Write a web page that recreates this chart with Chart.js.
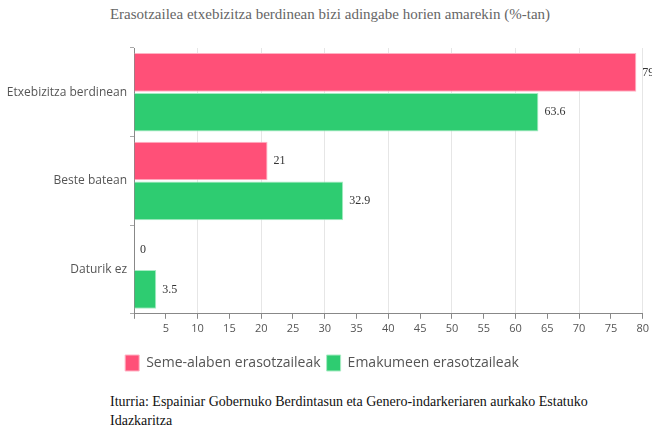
<!DOCTYPE html>
<html>
<head>
<meta charset="utf-8">
<script src="https://cdn.jsdelivr.net/npm/chart.js@4/dist/chart.umd.min.js"></script>
<style>
    body { margin: 0; background: #fff; width: 652px; height: 428px; overflow: hidden; }
    .title { font-family: "Liberation Serif", serif; font-size: 15px; color: #666; text-align: center; padding-top: 6px; height: 26px; padding-left: 8px; }
    .chart-box { position: relative; width: 652px; height: 353px; }
    .source { font-family: "Liberation Serif", serif; font-size: 14px; color: #111; margin-left: 110px; margin-top: 7px; line-height: 19px; }
</style>
</head>
<body>
<div class="title">Erasotzailea etxebizitza berdinean bizi adingabe horien amarekin (%-tan)</div>
<div class="chart-box"><canvas id="chart"></canvas></div>
<div class="source">Iturria: Espainiar Gobernuko Berdintasun eta Genero-indarkeriaren aurkako Estatuko<br>Idazkaritza</div>
<script>
const categories = ["Etxebizitza berdinean", "Beste batean", "Daturik ez"];
const semeAlaben = [79, 21, 0];
const emakumeen = [63.6, 32.9, 3.5];
const seriesNames = ["Seme-alaben erasotzaileak", "Emakumeen erasotzaileak"];

const valueLabels = {
    id: "valueLabels",
    afterDatasetsDraw(chart) {
        const { ctx } = chart;
        ctx.save();
        ctx.font = "12px 'Liberation Serif', serif";
        ctx.fillStyle = "#333";
        ctx.textBaseline = "middle";
        chart.data.datasets.forEach((dataset, i) => {
            chart.getDatasetMeta(i).data.forEach((bar, j) => {
                ctx.fillText(String(dataset.data[j]), bar.x + 6, bar.y);
            });
        });
        ctx.restore();
    }
};

new Chart(document.getElementById("chart"), {
    type: "bar",
    data: {
        labels: categories,
        datasets: [
            {
                label: seriesNames[0],
                data: semeAlaben,
                backgroundColor: "#ff5078",
                borderColor: "#ffb3c4",
                borderWidth: 1,
                categoryPercentage: 0.9,
                barPercentage: 0.97
            },
            {
                label: seriesNames[1],
                data: emakumeen,
                backgroundColor: "#2ecc71",
                borderColor: "#a8ecc4",
                borderWidth: 1,
                categoryPercentage: 0.9,
                barPercentage: 0.97
            }
        ]
    },
    options: {
        indexAxis: "y",
        responsive: true,
        maintainAspectRatio: false,
        animation: false,
        layout: { padding: { top: 16, right: 8, left: 0, bottom: 4 } },
        plugins: {
            legend: {
                position: "bottom",
                labels: {
                    font: { family: "'Open Sans', sans-serif", size: 14 },
                    color: "#555",
                    boxWidth: 14,
                    boxHeight: 16,
                    padding: 6
                }
            },
            tooltip: { enabled: false }
        },
        scales: {
            x: {
                min: 0,
                max: 80,
                ticks: {
                    stepSize: 5,
                    color: "#555",
                    font: { family: "'Open Sans', sans-serif", size: 11 },
                    callback: (value) => value === 0 ? "" : value
                },
                grid: {
                    color: (context) => context.index % 2 === 0 ? "#e6e6e6" : "rgba(0,0,0,0)",
                    tickColor: "#888",
                    tickLength: 5
                },
                border: { color: "#888" },
                afterFit: (axis) => { axis.height += 11; }
            },
            y: {
                ticks: {
                    color: "#555",
                    font: { family: "'Open Sans', sans-serif", size: 12 }
                },
                grid: {
                    drawOnChartArea: false,
                    tickColor: "#aaa",
                    tickLength: 4
                },
                border: { color: "#888" },
                afterFit: (axis) => { axis.width = 134; }
            }
        }
    },
    plugins: [valueLabels]
});
</script>
</body>
</html>
